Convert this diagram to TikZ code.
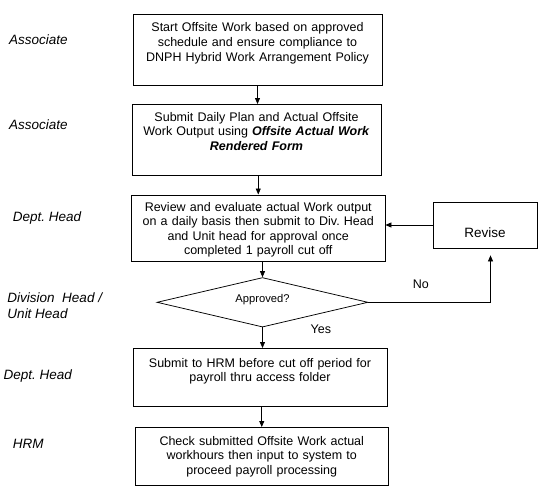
\documentclass[tikz,border=0pt]{standalone}
\usepackage{fontspec}
\setmainfont{Liberation Sans}
\usetikzlibrary{shapes.geometric,arrows.meta}
\frenchspacing

\begin{document}
\begin{tikzpicture}[x=1pt,y=-1pt,
	box/.style={draw, line width=0.75pt, anchor=north, align=center, inner sep=0pt,
		font=\fontsize{12.5}{14.6}\selectfont},
	role/.style={anchor=west, inner sep=0pt, align=left,
		font=\fontsize{13.5}{15.8}\selectfont\itshape},
	flow/.style={line width=0.75pt, -{Triangle[length=6pt,width=5pt]}},
	note/.style={inner sep=0pt, font=\fontsize{12.5}{15}\selectfont}]
	\useasboundingbox (0,0) rectangle (547,496);
	
	% who does each step
	\node[role] (r1) at (9,40) {Associate};
	\node[role] (r2) at (9,125) {Associate};
	\node[role] (r3) at (12.6,218) {Dept. Head};
	\node[role] (r4) at (7.3,305.3) {Division~~Head /\\Unit Head};
	\node[role] (r5) at (3.5,375.7) {Dept. Head};
	\node[role] (r6) at (12.6,444) {HRM};
	
	% steps
	\node[box, text width=249pt, text height=18pt, text depth=53.5pt] (b1) at (257.5,13.5)
		{Start Offsite Work based on approved\\schedule and ensure compliance to\\DNPH Hybrid Work Arrangement Policy};
	\node[box, text width=249pt, text height=17pt, text depth=54pt] (b2) at (256.5,104)
		{Submit Daily Plan and Actual Offsite\\Work Output using \textbf{\textit{Offsite Actual Work}}\\\textbf{\textit{Rendered Form}}};
	\node[box, text width=253.5pt, text height=16.2pt, text depth=50.3pt] (b3) at (258.25,194.5)
		{Review and evaluate actual Work output\\on a daily basis then submit to Div. Head\\and Unit head for approval once\\completed 1 payroll cut off};
	\node[box, text width=254pt, text height=18.7pt, text depth=39.3pt] (b4) at (260,348)
		{Submit to HRM before cut off period for\\payroll thru access folder};
	\node[box, text width=253.5pt, text height=18pt, text depth=39.5pt] (b5) at (261.75,427)
		{Check submitted Offsite Work actual\\workhours then input to system to\\proceed payroll processing};
	
	\node[draw, line width=0.75pt, minimum width=104pt, minimum height=46pt, inner sep=0pt,
		text height=24pt, text depth=0pt, font=\fontsize{13.5}{15}\selectfont] (rev) at (485,225) {Revise};
	\node[diamond, draw, line width=0.75pt, aspect=4.26, minimum width=211pt, minimum height=49.5pt,
		inner sep=0pt, text height=8pt, text depth=8pt, font=\fontsize{11.2}{13}\selectfont] (dia) at (262.5,302.3) {Approved?};
	
	\node[note] (no) at (420.8,284) {No};
	\node[note] (yes) at (320.8,329) {Yes};
	
	% arrows
	\draw[flow] (b1.south) -- (b1.south |- b2.north);
	\draw[flow] (b3.north |- b2.south) -- (b3.north);
	\draw[flow] (dia.north |- b3.south) -- (dia.north);
	\draw[flow] (dia.south) -- (dia.south |- b4.north);
	\draw[flow] (b5.north |- b4.south) -- (b5.north);
	\draw[flow] (rev.west) -- (rev.west -| b3.east);
	\draw[flow, shorten >=7pt] (dia.east) -| ([xshift=5.5pt]rev.south);
\end{tikzpicture}
\end{document}
